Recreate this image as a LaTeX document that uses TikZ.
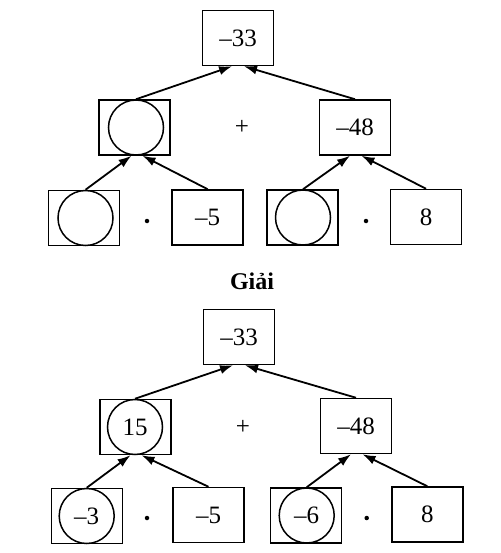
\documentclass[tikz,border=0pt]{standalone}
\usepackage{fontspec}
\setmainfont{Liberation Serif}
\usetikzlibrary{arrows.meta,calc}
\newcommand{\numfnt}{\fontsize{25}{28}\selectfont}
\tikzset{
  bx/.style={draw, line width=1.5pt, minimum width=71pt, minimum height=55pt, inner sep=0pt, font=\numfnt},
  circ/.style={draw, circle, line width=1.5pt, minimum size=55pt, inner sep=0pt, font=\numfnt},
  op/.style={inner sep=0pt, font=\numfnt},
  dotmark/.style={circle, fill=black, minimum size=4.5pt, inner sep=0pt},
  arr/.style={line width=1.8pt, -{Latex[length=13pt,width=9pt]}},
  title/.style={font=\fontsize{24}{27}\selectfont\bfseries}
}
\begin{document}
\begin{tikzpicture}[x=1pt,y=-1pt]
\useasboundingbox (0,0) rectangle (500,553);
% ---------- top diagram ----------
\node[bx] (t1) at (238,38) {–33};
\node[bx] (m1) at (134.5,127.5) {};
\node[circ] (c1) at (136,127.5) {};
\node[bx] (m2) at (355,127.5) {–48};
\node[op] (p1) at (242,127) {+};
\node[bx] (b1) at (84,218) {};
\node[circ] (cb1) at (85.5,218) {};
\node[dotmark] (d1) at (147,221) {};
\node[bx] (b2) at (207.7,217.5) {–5};
\node[bx] (b3) at (302.5,217.5) {};
\node[circ] (cb3) at (303,217.5) {};
\node[dotmark] (d2) at (366,221) {};
\node[bx] (b4) at (426,217) {8};
\draw[arr] (c1.north) -- ($(t1.south)+(-6,0)$);
\draw[arr] (m2.north) -- ($(t1.south)+(6,0)$);
\draw[arr] (cb1.north) -- ($(c1.south)+(-4.5,0)$);
\draw[arr] (b2.north) -- ($(c1.south)+(6.5,0)$);
\draw[arr] (cb3.north) -- ($(m2.south)+(-5,0)$);
\draw[arr] (b4.north) -- ($(m2.south)+(6.5,0)$);
% ---------- title ----------
\node[title] (g) at (252,281) {Giải};
% ---------- bottom diagram ----------
\node[bx] (T1) at (239,337) {–33};
\node[bx] (M1) at (135.3,427) {};
\node[circ] (C1) at (135,427) {15};
\node[bx] (M2) at (356,426) {–48};
\node[op] (P1) at (243,427) {+};
\node[bx] (B1) at (87.2,516) {};
\node[circ] (CB1) at (86.7,516) {–3};
\node[dotmark] (D1) at (147,518) {};
\node[bx] (B2) at (208.5,515) {–5};
\node[bx] (B3) at (306.2,515.5) {};
\node[circ] (CB3) at (306.7,515.5) {–6};
\node[dotmark] (D2) at (366.7,518) {};
\node[bx] (B4) at (427.3,514.5) {8};
\draw[arr] (C1.north) -- ($(T1.south)+(-6,0)$);
\draw[arr] (M2.north) -- ($(T1.south)+(6,0)$);
\draw[arr] (CB1.north) -- ($(C1.south)+(-4.5,0)$);
\draw[arr] (B2.north) -- ($(C1.south)+(6.5,0)$);
\draw[arr] (CB3.north) -- ($(M2.south)+(-5,0)$);
\draw[arr] (B4.north) -- ($(M2.south)+(6.5,0)$);
\end{tikzpicture}
\end{document}
